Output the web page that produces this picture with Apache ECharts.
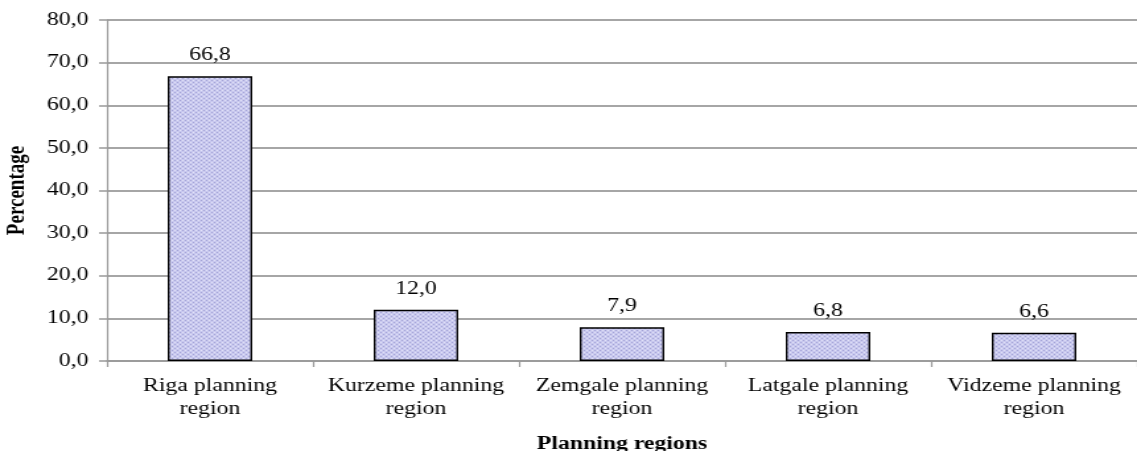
<!DOCTYPE html>
<html>
<head>
<meta charset="utf-8">
<script src="https://cdn.jsdelivr.net/npm/echarts@6/dist/echarts.min.js"></script>
<style>
  html, body { margin: 0; padding: 0; background: #fff; overflow: hidden; }
  /* The chart is laid out narrower and widened, giving the broad lettering of the figure */
  #chart { width: 861px; height: 451px; transform: scaleX(1.3206); transform-origin: 0 0; }
</style>
</head>
<body>
<div id="chart"></div>
<script>
// Share of each planning region, percent
const categories = [
  'Riga planning\nregion',
  'Kurzeme planning\nregion',
  'Zemgale planning\nregion',
  'Latgale planning\nregion',
  'Vidzeme planning\nregion'
];
const values = [66.8, 12.0, 7.9, 6.8, 6.6];

const fmt = v => Number(v).toFixed(1).replace('.', ',');
const serif = '"Liberation Serif", "Times New Roman", serif';

// Fine dotted fill for the bars
function makePattern() {
  const c = document.createElement('canvas');
  c.width = 4; c.height = 4;
  const g = c.getContext('2d');
  g.fillStyle = '#c8c8ee';
  g.fillRect(0, 0, 4, 4);
  g.fillStyle = '#a4a4d6';
  g.fillRect(0, 0, 1, 1);
  g.fillRect(2, 2, 1, 1);
  g.fillStyle = '#e2e2f8';
  g.fillRect(2, 0, 1, 1);
  g.fillRect(0, 2, 1, 1);
  return c;
}

const chart = echarts.init(document.getElementById('chart'), null, { renderer: 'canvas' });
chart.setOption({
  animation: false,
  grid: { left: 81, right: 0, top: 20, bottom: 90, containLabel: false, outerBoundsMode: 'none' },
  xAxis: {
    type: 'category',
    data: categories,
    name: 'Planning regions',
    nameLocation: 'middle',
    nameGap: 74,
    nameTextStyle: { fontFamily: serif, fontSize: 18, fontWeight: 'bold', color: '#000' },
    axisLine: { lineStyle: { color: '#999', width: 1.5 } },
    axisTick: { show: true, alignWithLabel: false, length: 6, lineStyle: { color: '#999', width: 1.2 } },
    axisLabel: { fontFamily: serif, fontSize: 18, color: '#000', lineHeight: 23, margin: 14, interval: 0 }
  },
  yAxis: {
    type: 'value',
    min: 0, max: 80, interval: 10,
    name: 'Percentage',
    nameLocation: 'middle',
    nameGap: 58,
    nameTextStyle: { fontFamily: serif, fontSize: 19, fontWeight: 'bold', color: '#000' },
    axisLine: { show: true, lineStyle: { color: '#999', width: 1.2 } },
    axisTick: { show: true, length: 6, lineStyle: { color: '#999', width: 1.5 } },
    axisLabel: { fontFamily: serif, fontSize: 18, color: '#000', margin: 14, formatter: v => fmt(v) },
    splitLine: { show: true, lineStyle: { color: '#a6a6a6', width: 1.8 } }
  },
  series: [{
    type: 'bar',
    data: values,
    barWidth: 64,
    itemStyle: {
      color: { image: makePattern(), repeat: 'repeat' },
      borderColor: '#000',
      borderWidth: 1.4
    },
    label: {
      show: true,
      position: 'top',
      distance: 12,
      fontFamily: serif,
      fontSize: 18,
      color: '#000',
      formatter: p => fmt(p.value)
    }
  }]
});
</script>
</body>
</html>
